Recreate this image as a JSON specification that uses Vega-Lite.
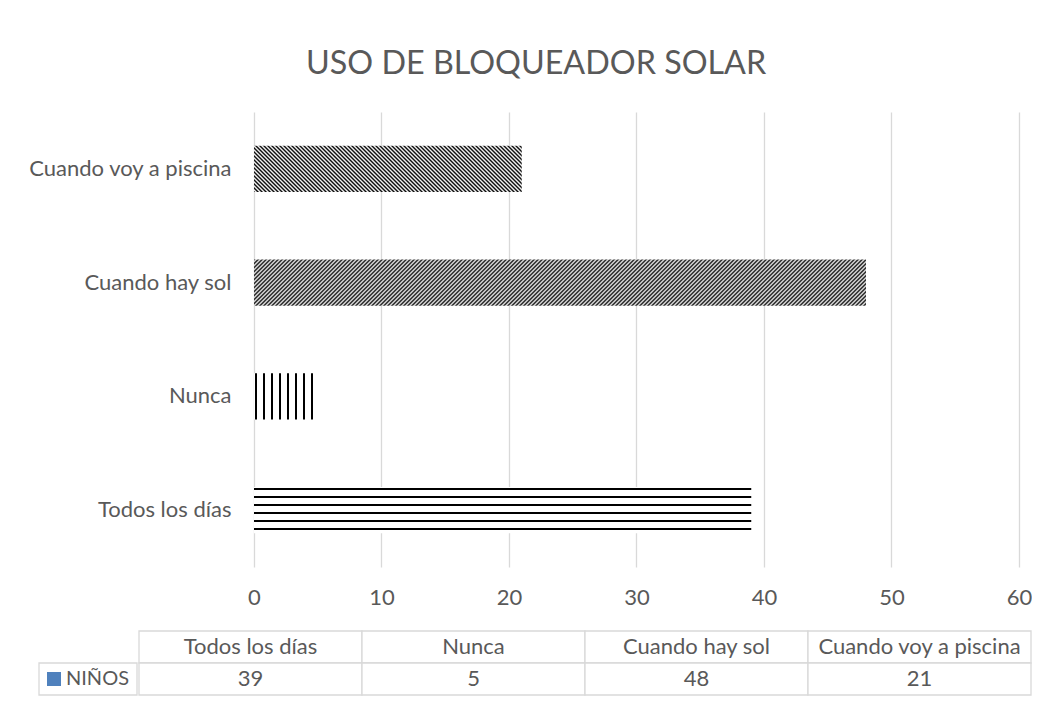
{
"$schema":"https://vega.github.io/schema/vega-lite/v6.json",
"padding":{"left":27,"top":47,"right":0,"bottom":0},
"title":{"text":"USO DE BLOQUEADOR SOLAR","font":"Lato","fontSize":32.3,"fontWeight":"normal","color":"#595959","anchor":"start","frame":"group","dx":267,"baseline":"alphabetic","offset":6},
"datasets":{
"tabla":[
{"categoria":"Todos los días","ninos":39},
{"categoria":"Nunca","ninos":5},
{"categoria":"Cuando hay sol","ninos":48},
{"categoria":"Cuando voy a piscina","ninos":21}
],
"serie":[{"serie":"NIÑOS"}]
},
"config":{"view":{"stroke":null},"font":"Lato","axis":{"labelFont":"Lato","labelFontSize":22,"labelColor":"#595959","domain":false,"ticks":false,"tickSize":0}},
"spacing":22,
"vconcat":[
{"width":980,"height":455,"data":{"name":"tabla"},
"encoding":{
"y":{"field":"categoria","type":"nominal","sort":["Cuando voy a piscina","Cuando hay sol","Nunca","Todos los días"],"scale":{"paddingInner":0.5956,"paddingOuter":0.2978},"axis":{"title":null,"labelPadding":23,"labelLimit":400,"offset":-215}},
"x":{"field":"ninos","type":"quantitative","scale":{"domain":[-16.8627,60],"nice":false,"zero":false},"axis":{"title":null,"values":[0,10,20,30,40,50,60],"grid":true,"gridColor":"#d9d9d9","gridWidth":1.3,"labelPadding":20,"labelFlush":false}}
},
"layer":[
{"transform":[{"filter":"datum.categoria === 'Todos los días'"}],"mark":{"type":"bar","stroke":null,"fill":{"gradient":"linear","x1":0,"y1":0,"x2":0,"y2":1,"stops":[{"offset":0,"color":"#fff"},{"offset":0.021739,"color":"#fff"},{"offset":0.021739,"color":"#000"},{"offset":0.065217,"color":"#000"},{"offset":0.065217,"color":"#fff"},{"offset":0.195652,"color":"#fff"},{"offset":0.195652,"color":"#000"},{"offset":0.23913,"color":"#000"},{"offset":0.23913,"color":"#fff"},{"offset":0.369565,"color":"#fff"},{"offset":0.369565,"color":"#000"},{"offset":0.413043,"color":"#000"},{"offset":0.413043,"color":"#fff"},{"offset":0.543478,"color":"#fff"},{"offset":0.543478,"color":"#000"},{"offset":0.586957,"color":"#000"},{"offset":0.586957,"color":"#fff"},{"offset":0.717391,"color":"#fff"},{"offset":0.717391,"color":"#000"},{"offset":0.76087,"color":"#000"},{"offset":0.76087,"color":"#fff"},{"offset":0.891304,"color":"#fff"},{"offset":0.891304,"color":"#000"},{"offset":0.934783,"color":"#000"},{"offset":0.934783,"color":"#fff"},{"offset":1,"color":"#fff"}]}}},
{"transform":[{"filter":"datum.categoria === 'Nunca'"}],"mark":{"type":"bar","stroke":null,"fill":{"gradient":"linear","x1":0,"y1":0,"x2":1,"y2":0,"stops":[{"offset":0,"color":"#fff"},{"offset":0.015686,"color":"#fff"},{"offset":0.015686,"color":"#000"},{"offset":0.047059,"color":"#000"},{"offset":0.047059,"color":"#fff"},{"offset":0.141176,"color":"#fff"},{"offset":0.141176,"color":"#000"},{"offset":0.172549,"color":"#000"},{"offset":0.172549,"color":"#fff"},{"offset":0.266667,"color":"#fff"},{"offset":0.266667,"color":"#000"},{"offset":0.298039,"color":"#000"},{"offset":0.298039,"color":"#fff"},{"offset":0.392157,"color":"#fff"},{"offset":0.392157,"color":"#000"},{"offset":0.423529,"color":"#000"},{"offset":0.423529,"color":"#fff"},{"offset":0.517647,"color":"#fff"},{"offset":0.517647,"color":"#000"},{"offset":0.54902,"color":"#000"},{"offset":0.54902,"color":"#fff"},{"offset":0.643137,"color":"#fff"},{"offset":0.643137,"color":"#000"},{"offset":0.67451,"color":"#000"},{"offset":0.67451,"color":"#fff"},{"offset":0.768627,"color":"#fff"},{"offset":0.768627,"color":"#000"},{"offset":0.8,"color":"#000"},{"offset":0.8,"color":"#fff"},{"offset":0.894118,"color":"#fff"},{"offset":0.894118,"color":"#000"},{"offset":0.92549,"color":"#000"},{"offset":0.92549,"color":"#fff"},{"offset":1,"color":"#fff"}]}}},
{"transform":[{"filter":"datum.categoria === 'Cuando hay sol'"}],"mark":{"type":"bar","stroke":null,"fill":{"gradient":"linear","x1":0,"y1":0,"x2":1.29985,"y2":0.097701,"stops":[
{"offset":0,"color":"#000"},{"offset":0.0025,"color":"#fff"},{"offset":0.005,"color":"#000"},{"offset":0.0075,"color":"#fff"},
{"offset":0.01,"color":"#000"},{"offset":0.0125,"color":"#fff"},{"offset":0.015,"color":"#000"},{"offset":0.0175,"color":"#fff"},
{"offset":0.02,"color":"#000"},{"offset":0.0225,"color":"#fff"},{"offset":0.025,"color":"#000"},{"offset":0.0275,"color":"#fff"},
{"offset":0.03,"color":"#000"},{"offset":0.0325,"color":"#fff"},{"offset":0.035,"color":"#000"},{"offset":0.0375,"color":"#fff"},
{"offset":0.04,"color":"#000"},{"offset":0.0425,"color":"#fff"},{"offset":0.045,"color":"#000"},{"offset":0.0475,"color":"#fff"},
{"offset":0.05,"color":"#000"},{"offset":0.0525,"color":"#fff"},{"offset":0.055,"color":"#000"},{"offset":0.0575,"color":"#fff"},
{"offset":0.06,"color":"#000"},{"offset":0.0625,"color":"#fff"},{"offset":0.065,"color":"#000"},{"offset":0.0675,"color":"#fff"},
{"offset":0.07,"color":"#000"},{"offset":0.0725,"color":"#fff"},{"offset":0.075,"color":"#000"},{"offset":0.0775,"color":"#fff"},
{"offset":0.08,"color":"#000"},{"offset":0.0825,"color":"#fff"},{"offset":0.085,"color":"#000"},{"offset":0.0875,"color":"#fff"},
{"offset":0.09,"color":"#000"},{"offset":0.0925,"color":"#fff"},{"offset":0.095,"color":"#000"},{"offset":0.0975,"color":"#fff"},
{"offset":0.10,"color":"#000"},{"offset":0.1025,"color":"#fff"},{"offset":0.105,"color":"#000"},{"offset":0.1075,"color":"#fff"},
{"offset":0.11,"color":"#000"},{"offset":0.1125,"color":"#fff"},{"offset":0.115,"color":"#000"},{"offset":0.1175,"color":"#fff"},
{"offset":0.12,"color":"#000"},{"offset":0.1225,"color":"#fff"},{"offset":0.125,"color":"#000"},{"offset":0.1275,"color":"#fff"},
{"offset":0.13,"color":"#000"},{"offset":0.1325,"color":"#fff"},{"offset":0.135,"color":"#000"},{"offset":0.1375,"color":"#fff"},
{"offset":0.14,"color":"#000"},{"offset":0.1425,"color":"#fff"},{"offset":0.145,"color":"#000"},{"offset":0.1475,"color":"#fff"},
{"offset":0.15,"color":"#000"},{"offset":0.1525,"color":"#fff"},{"offset":0.155,"color":"#000"},{"offset":0.1575,"color":"#fff"},
{"offset":0.16,"color":"#000"},{"offset":0.1625,"color":"#fff"},{"offset":0.165,"color":"#000"},{"offset":0.1675,"color":"#fff"},
{"offset":0.17,"color":"#000"},{"offset":0.1725,"color":"#fff"},{"offset":0.175,"color":"#000"},{"offset":0.1775,"color":"#fff"},
{"offset":0.18,"color":"#000"},{"offset":0.1825,"color":"#fff"},{"offset":0.185,"color":"#000"},{"offset":0.1875,"color":"#fff"},
{"offset":0.19,"color":"#000"},{"offset":0.1925,"color":"#fff"},{"offset":0.195,"color":"#000"},{"offset":0.1975,"color":"#fff"},
{"offset":0.20,"color":"#000"},{"offset":0.2025,"color":"#fff"},{"offset":0.205,"color":"#000"},{"offset":0.2075,"color":"#fff"},
{"offset":0.21,"color":"#000"},{"offset":0.2125,"color":"#fff"},{"offset":0.215,"color":"#000"},{"offset":0.2175,"color":"#fff"},
{"offset":0.22,"color":"#000"},{"offset":0.2225,"color":"#fff"},{"offset":0.225,"color":"#000"},{"offset":0.2275,"color":"#fff"},
{"offset":0.23,"color":"#000"},{"offset":0.2325,"color":"#fff"},{"offset":0.235,"color":"#000"},{"offset":0.2375,"color":"#fff"},
{"offset":0.24,"color":"#000"},{"offset":0.2425,"color":"#fff"},{"offset":0.245,"color":"#000"},{"offset":0.2475,"color":"#fff"},
{"offset":0.25,"color":"#000"},{"offset":0.2525,"color":"#fff"},{"offset":0.255,"color":"#000"},{"offset":0.2575,"color":"#fff"},
{"offset":0.26,"color":"#000"},{"offset":0.2625,"color":"#fff"},{"offset":0.265,"color":"#000"},{"offset":0.2675,"color":"#fff"},
{"offset":0.27,"color":"#000"},{"offset":0.2725,"color":"#fff"},{"offset":0.275,"color":"#000"},{"offset":0.2775,"color":"#fff"},
{"offset":0.28,"color":"#000"},{"offset":0.2825,"color":"#fff"},{"offset":0.285,"color":"#000"},{"offset":0.2875,"color":"#fff"},
{"offset":0.29,"color":"#000"},{"offset":0.2925,"color":"#fff"},{"offset":0.295,"color":"#000"},{"offset":0.2975,"color":"#fff"},
{"offset":0.30,"color":"#000"},{"offset":0.3025,"color":"#fff"},{"offset":0.305,"color":"#000"},{"offset":0.3075,"color":"#fff"},
{"offset":0.31,"color":"#000"},{"offset":0.3125,"color":"#fff"},{"offset":0.315,"color":"#000"},{"offset":0.3175,"color":"#fff"},
{"offset":0.32,"color":"#000"},{"offset":0.3225,"color":"#fff"},{"offset":0.325,"color":"#000"},{"offset":0.3275,"color":"#fff"},
{"offset":0.33,"color":"#000"},{"offset":0.3325,"color":"#fff"},{"offset":0.335,"color":"#000"},{"offset":0.3375,"color":"#fff"},
{"offset":0.34,"color":"#000"},{"offset":0.3425,"color":"#fff"},{"offset":0.345,"color":"#000"},{"offset":0.3475,"color":"#fff"},
{"offset":0.35,"color":"#000"},{"offset":0.3525,"color":"#fff"},{"offset":0.355,"color":"#000"},{"offset":0.3575,"color":"#fff"},
{"offset":0.36,"color":"#000"},{"offset":0.3625,"color":"#fff"},{"offset":0.365,"color":"#000"},{"offset":0.3675,"color":"#fff"},
{"offset":0.37,"color":"#000"},{"offset":0.3725,"color":"#fff"},{"offset":0.375,"color":"#000"},{"offset":0.3775,"color":"#fff"},
{"offset":0.38,"color":"#000"},{"offset":0.3825,"color":"#fff"},{"offset":0.385,"color":"#000"},{"offset":0.3875,"color":"#fff"},
{"offset":0.39,"color":"#000"},{"offset":0.3925,"color":"#fff"},{"offset":0.395,"color":"#000"},{"offset":0.3975,"color":"#fff"},
{"offset":0.40,"color":"#000"},{"offset":0.4025,"color":"#fff"},{"offset":0.405,"color":"#000"},{"offset":0.4075,"color":"#fff"},
{"offset":0.41,"color":"#000"},{"offset":0.4125,"color":"#fff"},{"offset":0.415,"color":"#000"},{"offset":0.4175,"color":"#fff"},
{"offset":0.42,"color":"#000"},{"offset":0.4225,"color":"#fff"},{"offset":0.425,"color":"#000"},{"offset":0.4275,"color":"#fff"},
{"offset":0.43,"color":"#000"},{"offset":0.4325,"color":"#fff"},{"offset":0.435,"color":"#000"},{"offset":0.4375,"color":"#fff"},
{"offset":0.44,"color":"#000"},{"offset":0.4425,"color":"#fff"},{"offset":0.445,"color":"#000"},{"offset":0.4475,"color":"#fff"},
{"offset":0.45,"color":"#000"},{"offset":0.4525,"color":"#fff"},{"offset":0.455,"color":"#000"},{"offset":0.4575,"color":"#fff"},
{"offset":0.46,"color":"#000"},{"offset":0.4625,"color":"#fff"},{"offset":0.465,"color":"#000"},{"offset":0.4675,"color":"#fff"},
{"offset":0.47,"color":"#000"},{"offset":0.4725,"color":"#fff"},{"offset":0.475,"color":"#000"},{"offset":0.4775,"color":"#fff"},
{"offset":0.48,"color":"#000"},{"offset":0.4825,"color":"#fff"},{"offset":0.485,"color":"#000"},{"offset":0.4875,"color":"#fff"},
{"offset":0.49,"color":"#000"},{"offset":0.4925,"color":"#fff"},{"offset":0.495,"color":"#000"},{"offset":0.4975,"color":"#fff"},
{"offset":0.50,"color":"#000"},{"offset":0.5025,"color":"#fff"},{"offset":0.505,"color":"#000"},{"offset":0.5075,"color":"#fff"},
{"offset":0.51,"color":"#000"},{"offset":0.5125,"color":"#fff"},{"offset":0.515,"color":"#000"},{"offset":0.5175,"color":"#fff"},
{"offset":0.52,"color":"#000"},{"offset":0.5225,"color":"#fff"},{"offset":0.525,"color":"#000"},{"offset":0.5275,"color":"#fff"},
{"offset":0.53,"color":"#000"},{"offset":0.5325,"color":"#fff"},{"offset":0.535,"color":"#000"},{"offset":0.5375,"color":"#fff"},
{"offset":0.54,"color":"#000"},{"offset":0.5425,"color":"#fff"},{"offset":0.545,"color":"#000"},{"offset":0.5475,"color":"#fff"},
{"offset":0.55,"color":"#000"},{"offset":0.5525,"color":"#fff"},{"offset":0.555,"color":"#000"},{"offset":0.5575,"color":"#fff"},
{"offset":0.56,"color":"#000"},{"offset":0.5625,"color":"#fff"},{"offset":0.565,"color":"#000"},{"offset":0.5675,"color":"#fff"},
{"offset":0.57,"color":"#000"},{"offset":0.5725,"color":"#fff"},{"offset":0.575,"color":"#000"},{"offset":0.5775,"color":"#fff"},
{"offset":0.58,"color":"#000"},{"offset":0.5825,"color":"#fff"},{"offset":0.585,"color":"#000"},{"offset":0.5875,"color":"#fff"},
{"offset":0.59,"color":"#000"},{"offset":0.5925,"color":"#fff"},{"offset":0.595,"color":"#000"},{"offset":0.5975,"color":"#fff"},
{"offset":0.60,"color":"#000"},{"offset":0.6025,"color":"#fff"},{"offset":0.605,"color":"#000"},{"offset":0.6075,"color":"#fff"},
{"offset":0.61,"color":"#000"},{"offset":0.6125,"color":"#fff"},{"offset":0.615,"color":"#000"},{"offset":0.6175,"color":"#fff"},
{"offset":0.62,"color":"#000"},{"offset":0.6225,"color":"#fff"},{"offset":0.625,"color":"#000"},{"offset":0.6275,"color":"#fff"},
{"offset":0.63,"color":"#000"},{"offset":0.6325,"color":"#fff"},{"offset":0.635,"color":"#000"},{"offset":0.6375,"color":"#fff"},
{"offset":0.64,"color":"#000"},{"offset":0.6425,"color":"#fff"},{"offset":0.645,"color":"#000"},{"offset":0.6475,"color":"#fff"},
{"offset":0.65,"color":"#000"},{"offset":0.6525,"color":"#fff"},{"offset":0.655,"color":"#000"},{"offset":0.6575,"color":"#fff"},
{"offset":0.66,"color":"#000"},{"offset":0.6625,"color":"#fff"},{"offset":0.665,"color":"#000"},{"offset":0.6675,"color":"#fff"},
{"offset":0.67,"color":"#000"},{"offset":0.6725,"color":"#fff"},{"offset":0.675,"color":"#000"},{"offset":0.6775,"color":"#fff"},
{"offset":0.68,"color":"#000"},{"offset":0.6825,"color":"#fff"},{"offset":0.685,"color":"#000"},{"offset":0.6875,"color":"#fff"},
{"offset":0.69,"color":"#000"},{"offset":0.6925,"color":"#fff"},{"offset":0.695,"color":"#000"},{"offset":0.6975,"color":"#fff"},
{"offset":0.70,"color":"#000"},{"offset":0.7025,"color":"#fff"},{"offset":0.705,"color":"#000"},{"offset":0.7075,"color":"#fff"},
{"offset":0.71,"color":"#000"},{"offset":0.7125,"color":"#fff"},{"offset":0.715,"color":"#000"},{"offset":0.7175,"color":"#fff"},
{"offset":0.72,"color":"#000"},{"offset":0.7225,"color":"#fff"},{"offset":0.725,"color":"#000"},{"offset":0.7275,"color":"#fff"},
{"offset":0.73,"color":"#000"},{"offset":0.7325,"color":"#fff"},{"offset":0.735,"color":"#000"},{"offset":0.7375,"color":"#fff"},
{"offset":0.74,"color":"#000"},{"offset":0.7425,"color":"#fff"},{"offset":0.745,"color":"#000"},{"offset":0.7475,"color":"#fff"},
{"offset":0.75,"color":"#000"},{"offset":0.7525,"color":"#fff"},{"offset":0.755,"color":"#000"},{"offset":0.7575,"color":"#fff"},
{"offset":0.76,"color":"#000"},{"offset":0.7625,"color":"#fff"},{"offset":0.765,"color":"#000"},{"offset":0.7675,"color":"#fff"},
{"offset":0.77,"color":"#000"},{"offset":0.7725,"color":"#fff"},{"offset":0.775,"color":"#000"},{"offset":0.7775,"color":"#fff"},
{"offset":0.78,"color":"#000"},{"offset":0.7825,"color":"#fff"},{"offset":0.785,"color":"#000"},{"offset":0.7875,"color":"#fff"},
{"offset":0.79,"color":"#000"},{"offset":0.7925,"color":"#fff"},{"offset":0.795,"color":"#000"},{"offset":0.7975,"color":"#fff"},
{"offset":0.80,"color":"#000"},{"offset":0.8025,"color":"#fff"},{"offset":0.805,"color":"#000"},{"offset":0.8075,"color":"#fff"},
{"offset":0.81,"color":"#000"},{"offset":0.8125,"color":"#fff"},{"offset":0.815,"color":"#000"},{"offset":0.8175,"color":"#fff"},
{"offset":0.82,"color":"#000"},{"offset":0.8225,"color":"#fff"},{"offset":0.825,"color":"#000"},{"offset":0.8275,"color":"#fff"}
]}}},
{"transform":[{"filter":"datum.categoria === 'Cuando voy a piscina'"}],"mark":{"type":"bar","stroke":null,"fill":{"gradient":"linear","x1":0,"y1":1,"x2":1.4511,"y2":0.750698,"stops":[
{"offset":0,"color":"#000"},{"offset":0.005,"color":"#fff"},{"offset":0.01,"color":"#000"},{"offset":0.015,"color":"#fff"},{"offset":0.02,"color":"#000"},{"offset":0.025,"color":"#fff"},{"offset":0.03,"color":"#000"},{"offset":0.035,"color":"#fff"},{"offset":0.04,"color":"#000"},{"offset":0.045,"color":"#fff"},
{"offset":0.05,"color":"#000"},{"offset":0.055,"color":"#fff"},{"offset":0.06,"color":"#000"},{"offset":0.065,"color":"#fff"},{"offset":0.07,"color":"#000"},{"offset":0.075,"color":"#fff"},{"offset":0.08,"color":"#000"},{"offset":0.085,"color":"#fff"},{"offset":0.09,"color":"#000"},{"offset":0.095,"color":"#fff"},
{"offset":0.10,"color":"#000"},{"offset":0.105,"color":"#fff"},{"offset":0.11,"color":"#000"},{"offset":0.115,"color":"#fff"},{"offset":0.12,"color":"#000"},{"offset":0.125,"color":"#fff"},{"offset":0.13,"color":"#000"},{"offset":0.135,"color":"#fff"},{"offset":0.14,"color":"#000"},{"offset":0.145,"color":"#fff"},
{"offset":0.15,"color":"#000"},{"offset":0.155,"color":"#fff"},{"offset":0.16,"color":"#000"},{"offset":0.165,"color":"#fff"},{"offset":0.17,"color":"#000"},{"offset":0.175,"color":"#fff"},{"offset":0.18,"color":"#000"},{"offset":0.185,"color":"#fff"},{"offset":0.19,"color":"#000"},{"offset":0.195,"color":"#fff"},
{"offset":0.20,"color":"#000"},{"offset":0.205,"color":"#fff"},{"offset":0.21,"color":"#000"},{"offset":0.215,"color":"#fff"},{"offset":0.22,"color":"#000"},{"offset":0.225,"color":"#fff"},{"offset":0.23,"color":"#000"},{"offset":0.235,"color":"#fff"},{"offset":0.24,"color":"#000"},{"offset":0.245,"color":"#fff"},
{"offset":0.25,"color":"#000"},{"offset":0.255,"color":"#fff"},{"offset":0.26,"color":"#000"},{"offset":0.265,"color":"#fff"},{"offset":0.27,"color":"#000"},{"offset":0.275,"color":"#fff"},{"offset":0.28,"color":"#000"},{"offset":0.285,"color":"#fff"},{"offset":0.29,"color":"#000"},{"offset":0.295,"color":"#fff"},
{"offset":0.30,"color":"#000"},{"offset":0.305,"color":"#fff"},{"offset":0.31,"color":"#000"},{"offset":0.315,"color":"#fff"},{"offset":0.32,"color":"#000"},{"offset":0.325,"color":"#fff"},{"offset":0.33,"color":"#000"},{"offset":0.335,"color":"#fff"},{"offset":0.34,"color":"#000"},{"offset":0.345,"color":"#fff"},
{"offset":0.35,"color":"#000"},{"offset":0.355,"color":"#fff"},{"offset":0.36,"color":"#000"},{"offset":0.365,"color":"#fff"},{"offset":0.37,"color":"#000"},{"offset":0.375,"color":"#fff"},{"offset":0.38,"color":"#000"},{"offset":0.385,"color":"#fff"},{"offset":0.39,"color":"#000"},{"offset":0.395,"color":"#fff"},
{"offset":0.40,"color":"#000"},{"offset":0.405,"color":"#fff"},{"offset":0.41,"color":"#000"},{"offset":0.415,"color":"#fff"},{"offset":0.42,"color":"#000"},{"offset":0.425,"color":"#fff"},{"offset":0.43,"color":"#000"},{"offset":0.435,"color":"#fff"},{"offset":0.44,"color":"#000"},{"offset":0.445,"color":"#fff"},
{"offset":0.45,"color":"#000"},{"offset":0.455,"color":"#fff"},{"offset":0.46,"color":"#000"},{"offset":0.465,"color":"#fff"},{"offset":0.47,"color":"#000"},{"offset":0.475,"color":"#fff"},{"offset":0.48,"color":"#000"},{"offset":0.485,"color":"#fff"},{"offset":0.49,"color":"#000"},{"offset":0.495,"color":"#fff"},
{"offset":0.50,"color":"#000"},{"offset":0.505,"color":"#fff"},{"offset":0.51,"color":"#000"},{"offset":0.515,"color":"#fff"},{"offset":0.52,"color":"#000"},{"offset":0.525,"color":"#fff"},{"offset":0.53,"color":"#000"},{"offset":0.535,"color":"#fff"},{"offset":0.54,"color":"#000"},{"offset":0.545,"color":"#fff"},
{"offset":0.55,"color":"#000"},{"offset":0.555,"color":"#fff"},{"offset":0.56,"color":"#000"},{"offset":0.565,"color":"#fff"},{"offset":0.57,"color":"#000"},{"offset":0.575,"color":"#fff"},{"offset":0.58,"color":"#000"},{"offset":0.585,"color":"#fff"},{"offset":0.59,"color":"#000"},{"offset":0.595,"color":"#fff"},
{"offset":0.60,"color":"#000"},{"offset":0.605,"color":"#fff"},{"offset":0.61,"color":"#000"},{"offset":0.615,"color":"#fff"},{"offset":0.62,"color":"#000"},{"offset":0.625,"color":"#fff"},{"offset":0.63,"color":"#000"},{"offset":0.635,"color":"#fff"},{"offset":0.64,"color":"#000"},{"offset":0.645,"color":"#fff"},
{"offset":0.65,"color":"#000"},{"offset":0.655,"color":"#fff"},{"offset":0.66,"color":"#000"},{"offset":0.665,"color":"#fff"},{"offset":0.67,"color":"#000"},{"offset":0.675,"color":"#fff"},{"offset":0.68,"color":"#000"},{"offset":0.685,"color":"#fff"},{"offset":0.69,"color":"#000"},{"offset":0.695,"color":"#fff"},
{"offset":0.70,"color":"#000"},{"offset":0.705,"color":"#fff"},{"offset":0.71,"color":"#000"},{"offset":0.715,"color":"#fff"},{"offset":0.72,"color":"#000"},{"offset":0.725,"color":"#fff"},{"offset":0.73,"color":"#000"},{"offset":0.735,"color":"#fff"},{"offset":0.74,"color":"#000"},{"offset":0.745,"color":"#fff"},
{"offset":0.75,"color":"#000"},{"offset":0.755,"color":"#fff"},{"offset":0.76,"color":"#000"},{"offset":0.765,"color":"#fff"},{"offset":0.77,"color":"#000"},{"offset":0.775,"color":"#fff"},{"offset":0.78,"color":"#000"},{"offset":0.785,"color":"#fff"},{"offset":0.79,"color":"#000"},{"offset":0.795,"color":"#fff"}
]}}}
]
},
{"spacing":0,"hconcat":[
{"width":98,"height":64,"data":{"name":"serie"},
"encoding":{"y":{"datum":"NIÑOS","type":"nominal","scale":{"type":"band","domain":["cabecera","NIÑOS"],"paddingInner":0,"paddingOuter":0},"axis":null}},
"layer":[
{"mark":{"type":"rect","fill":"white","stroke":"#d9d9d9","strokeWidth":1.3}},
{"mark":{"type":"point","shape":"square","filled":true,"size":196,"color":"#4f81bd","opacity":1,"xOffset":-34}},
{"mark":{"type":"text","align":"left","baseline":"middle","fontSize":20,"color":"#595959","xOffset":-22},"encoding":{"text":{"field":"serie"}}}
]},
{"width":892,"height":64,"data":{"name":"tabla"},
"encoding":{"x":{"field":"categoria","type":"nominal","sort":null,"scale":{"type":"band","paddingInner":0,"paddingOuter":0},"axis":null}},
"layer":[
{"mark":{"type":"rect","fill":"white","stroke":"#d9d9d9","strokeWidth":1.3},"encoding":{"y":{"datum":"cabecera","type":"nominal","scale":{"type":"band","domain":["cabecera","NIÑOS"],"paddingInner":0,"paddingOuter":0},"axis":null}}},
{"mark":{"type":"rect","fill":"white","stroke":"#d9d9d9","strokeWidth":1.3},"encoding":{"y":{"datum":"NIÑOS","type":"nominal"}}},
{"mark":{"type":"text","fontSize":22,"color":"#595959","baseline":"middle"},"encoding":{"y":{"datum":"cabecera","type":"nominal"},"text":{"field":"categoria"}}},
{"mark":{"type":"text","fontSize":22,"color":"#595959","baseline":"middle"},"encoding":{"y":{"datum":"NIÑOS","type":"nominal"},"text":{"field":"ninos"}}}
]}
]}
]
}
